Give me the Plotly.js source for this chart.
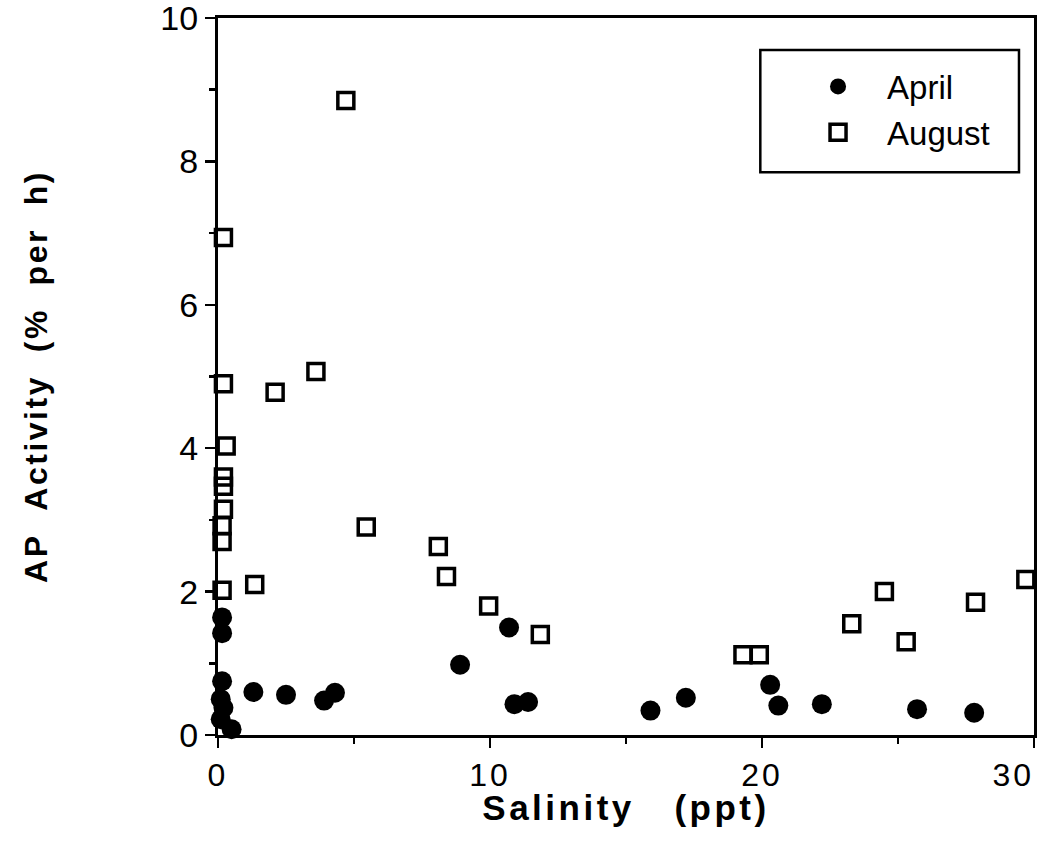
<!DOCTYPE html>
<html>
<head>
<meta charset="utf-8">
<script src="https://cdn.plot.ly/plotly-3.0.1.min.js"></script>
<style>
  html, body { margin: 0; padding: 0; background: #ffffff; }
  #chart { width: 1052px; height: 852px; }
  /* the axis captions and the salinity tick numbers are set with open letter spacing */
  #chart .xtitle { letter-spacing: 3.5px; }
  #chart .ytitle { letter-spacing: 2.5px; }
  #chart .xtick text { letter-spacing: 3px; }
  /* the last salinity number sits flush against the right frame */
  #chart .xaxislayer-above .xtick:last-child text { text-anchor: end; }
</style>
</head>
<body>
<div id="chart"></div>
<script>
// Alkaline phosphatase activity versus salinity, two sampling months
const aprilSalinity = [0.15, 0.15, 0.15, 0.1, 0.2, 0.1, 0.5, 1.3, 2.5, 3.9, 4.3, 8.9, 10.7, 10.9, 11.4, 15.9, 17.2, 20.3, 20.6, 22.2, 25.7, 27.8];
const aprilActivity = [1.64, 1.42, 0.75, 0.5, 0.38, 0.22, 0.08, 0.6, 0.56, 0.48, 0.59, 0.98, 1.5, 0.43, 0.46, 0.34, 0.52, 0.7, 0.41, 0.43, 0.36, 0.31];

const augustSalinity = [4.7, 0.2, 0.2, 2.1, 3.6, 0.3, 0.2, 0.2, 0.2, 0.15, 0.15, 0.15, 1.35, 5.45, 8.1, 8.4, 9.95, 11.85, 19.3, 19.9, 23.3, 24.5, 25.3, 27.85, 29.7];
const augustActivity = [8.85, 6.94, 4.9, 4.78, 5.07, 4.03, 3.6, 3.47, 3.15, 2.92, 2.7, 2.02, 2.1, 2.9, 2.63, 2.21, 1.8, 1.4, 1.12, 1.12, 1.55, 2.0, 1.3, 1.85, 2.17];

const seriesNames = ['April', 'August'];
const xTickValues = [0, 10, 20, 30];
const yTickValues = [0, 2, 4, 6, 8, 10];

const FONT = 'Liberation Sans, Arial, Helvetica, sans-serif';
const NB = '\u00a0';

const traces = [
  {
    type: 'scatter', mode: 'markers', name: seriesNames[0], legendgroup: 'a',
    x: aprilSalinity, y: aprilActivity, cliponaxis: false,
    marker: { symbol: 'circle', size: 20, color: '#000000', line: { width: 0 } }
  },
  {
    type: 'scatter', mode: 'markers', name: seriesNames[1], legendgroup: 'b',
    x: augustSalinity, y: augustActivity, cliponaxis: false,
    marker: { symbol: 'square-open', size: 16, color: '#000000', line: { width: 3.5, color: '#000000' } }
  }
];

const axisCommon = {
  showgrid: false, zeroline: false,
  showline: true, linecolor: '#000000', linewidth: 3, mirror: true,
  ticks: 'outside', ticklen: 10, tickwidth: 2.5, tickcolor: '#000000',
  ticklabeloverflow: 'allow'
};

const layout = {
  width: 1052, height: 852,
  margin: { l: 218, r: 18, t: 18, b: 117 },
  paper_bgcolor: '#ffffff', plot_bgcolor: '#ffffff',
  showlegend: true,
  xaxis: Object.assign({}, axisCommon, {
    range: [0, 30], tickvals: xTickValues,
    tickfont: { family: FONT, size: 32, color: '#000000' },
    minor: { dtick: 5, tick0: 0, ticks: 'outside', ticklen: 6, tickwidth: 2.5, tickcolor: '#000000' },
    title: { text: 'Salinity' + NB + NB + NB + '(ppt)', font: { family: FONT, size: 35, weight: 'bold', color: '#000000' }, standoff: 4 }
  }),
  yaxis: Object.assign({}, axisCommon, {
    range: [0, 10], tickvals: yTickValues,
    tickfont: { family: FONT, size: 34, color: '#000000' },
    minor: { dtick: 1, tick0: 0, ticks: 'outside', ticklen: 6, tickwidth: 2.5, tickcolor: '#000000' },
    title: { text: ['AP', 'Activity', '(%', 'per', 'h)'].join(NB + NB), font: { family: FONT, size: 32, weight: 'bold', color: '#000000' }, standoff: 104 }
  }),
  legend: {
    x: 0.6998, y: 0.9435, xanchor: 'left', yanchor: 'top',
    bgcolor: 'rgba(0,0,0,0)', borderwidth: 0,
    traceorder: 'grouped', tracegroupgap: 0,
    itemwidth: 88,
    font: { family: FONT, size: 33, color: '#000000' }
  },
  shapes: [
    { type: 'rect', xref: 'paper', yref: 'paper', x0: 0.6646, x1: 0.9816, y0: 0.785, y1: 0.9554,
      line: { color: '#000000', width: 2.5 }, fillcolor: 'rgba(0,0,0,0)', layer: 'below' }
  ]
};

Plotly.newPlot('chart', traces, layout, { displayModeBar: false, staticPlot: true });
</script>
</body>
</html>
